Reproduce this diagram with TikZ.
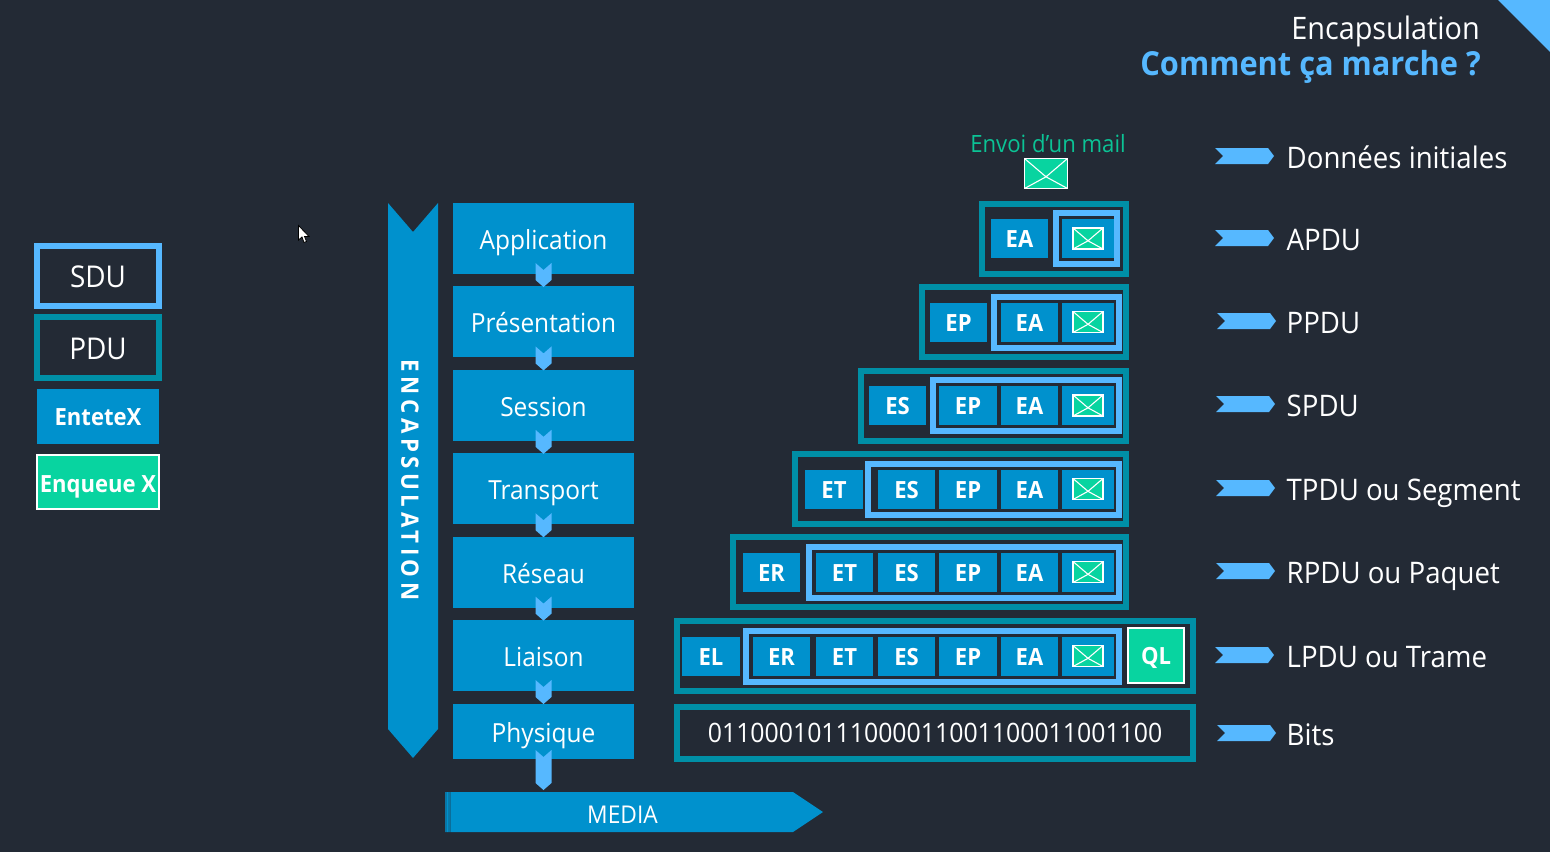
\documentclass[tikz,border=0pt]{standalone}
\usepackage{fontspec}
\setmainfont[FakeStretch=0.93]{Open Sans}
\usetikzlibrary{arrows,positioning}
\definecolor{bgdark}{HTML}{232A35}
\definecolor{blueone}{HTML}{0091CD}
\definecolor{skyblue}{HTML}{56B8FF}
\definecolor{tealone}{HTML}{008FA6}
\definecolor{greenone}{HTML}{08D4A0}
\newcommand{\fs}[1]{\fontsize{#1}{#1}\selectfont}
% name, x, y, width, height
\newcommand{\mailicon}[5]{
	\node[mail node,minimum width=#4pt,minimum height=#5pt] (#1) at (#2,#3) {};
	\draw[white,line width=1.1pt] (#1.north west) -- ([yshift=-0.11*#5 pt]#1.center) -- (#1.north east)
		(#1.south west) -- ([yshift=-0.11*#5 pt]#1.center) -- (#1.south east);
}
\begin{document}
\begin{tikzpicture}[x=1pt,y=-1pt,node distance=83.4pt,
	layer node/.style={fill=blueone,text=white,minimum width=181pt,minimum height=71pt,inner sep=0pt,outer sep=0pt,text height=26pt,text depth=4pt,font=\fs{26.3}},
	head node/.style={fill=blueone,text=white,minimum height=39pt,inner sep=0pt,outer sep=0pt,text height=18pt,text depth=0pt,font=\fs{23.7}\bfseries},
	pdu node/.style={draw=tealone,line width=6pt,inner sep=0pt,outer sep=0pt,text=white,text height=25pt,text depth=2pt,font=\fs{30}},
	sdu node/.style={draw=skyblue,line width=6pt,inner sep=0pt,outer sep=0pt,text=white,text height=24pt,text depth=2pt,font=\fs{30}},
	trailer node/.style={fill=greenone,draw=white,line width=2pt,text=white,inner sep=0pt,outer sep=0pt,text height=18pt,text depth=0pt,font=\fs{23.7}\bfseries},
	mail node/.style={fill=greenone,draw=white,line width=1.1pt,inner sep=0pt,outer sep=0pt},
	row label/.style={text=white,anchor=base west,inner sep=0pt,font=\fs{29.7}},
	chevron/.style={fill=skyblue}]
	\fill[bgdark] (0,0) rectangle (1550,852);
	\useasboundingbox (0,0) rectangle (1550,852);

	% title
	\fill[skyblue] (1498,0) -- (1550,52) -- (1550,0) -- cycle;
	\node[anchor=base east,text=white,inner sep=0pt,font=\fs{31}] (title) at (1480,39.5) {Encapsulation};
	\node[anchor=base east,text=skyblue,inner sep=0pt,font=\fs{33.1}\bfseries] (subtitle) at (1481,75) {Comment ça marche ?};

	% legend
	\node[sdu node,minimum width=122pt,minimum height=60pt] (sdu) at (98,276) {SDU};
	\node[pdu node,minimum width=122pt,minimum height=61pt] (pdu) at (98,347.5) {PDU};
	\node[head node,minimum width=122pt,minimum height=55pt,text height=17pt] (entete) at (98,416.5) {EnteteX};
	\node[trailer node,minimum width=122pt,minimum height=54pt,text height=20pt] (enqueue) at (98,482) {Enqueue X};

	% mouse pointer
	\draw[fill=white,draw=black,line width=0.8pt] (298.5,225.5) -- (298.5,240) -- (302,237) -- (304,242.5) -- (306.5,241.5) -- (304.5,236.5) -- (309,236.5) -- cycle;

	% encapsulation ribbon
	\fill[blueone] (388,203) -- (413,232) -- (438,203) -- (438,729) -- (413,758) -- (388,729) -- cycle;
	\node[rotate=-90,text=white,inner sep=0pt,font=\fs{24}\bfseries\addfontfeature{LetterSpace=19}] (ribbon) at (410,480) {ENCAPSULATION};

	% layers
	\node[layer node] (app) at (543.5,238.5) {Application};
	\node[layer node] (pres) [below of=app] {Présentation};
	\node[layer node] (sess) [below of=pres] {Session};
	\node[layer node] (trans) [below of=sess] {Transport};
	\node[layer node] (res) [below of=trans] {Réseau};
	\node[layer node] (liai) [below of=res] {Liaison};
	\node[layer node,minimum height=55pt] (phys) at (543.5,731.5) {Physique};
	\foreach \a in {app,pres,sess,trans,res,liai}
		\fill[chevron] ([shift={(-8,-11)}]\a.south) -- ([shift={(0,-4)}]\a.south) -- ([shift={(8,-11)}]\a.south)
			-- ([shift={(8,6)}]\a.south) -- ([shift={(0,13)}]\a.south) -- ([shift={(-8,6)}]\a.south) -- cycle;
	\fill[chevron] ([shift={(-8,-9)}]phys.south) -- ([shift={(0,-2)}]phys.south) -- ([shift={(8,-9)}]phys.south)
		-- ([shift={(8,24)}]phys.south) -- ([shift={(0,31)}]phys.south) -- ([shift={(-8,24)}]phys.south) -- cycle;

	% media
	\fill[blueone] (452,792) -- (793,792) -- (823,812) -- (793,832) -- (452,832) -- cycle;
	\fill[blueone!75!bgdark] (445,792) rectangle (447,832) (448,792) rectangle (450.5,832);
	\fill[blueone] (447,792) rectangle (448,832) (450.5,792) rectangle (452,832);
	\node[anchor=base,text=white,inner sep=0pt,font=\fs{24.5}] (media) at (622.5,823) {MEDIA};

	% data units, row/outer left/outer right/sdu left/sdu right/header/header x
	\foreach \rw/\oleft/\oright/\sleft/\sright/\hd/\hx in {1/979/1129/1053/1120/EA/1019.5,2/919/1129/991/1122/EP/958.5,3/858/1129/930/1122/ES/897.5,4/792/1129/865/1122/ET/834,5/730/1129/806/1122/ER/771.5,6/674/1196/743/1122/EL/711} {
		\pgfmathsetmacro\cy{{238.5,322,405.5,489,572,656}[\rw-1]}
		\node[pdu node,minimum width={(\oright-\oleft-6)*1pt},minimum height=70pt] (pdu\rw) at ({(\oright+\oleft)/2},\cy) {};
		\node[sdu node,minimum width={(\sright-\sleft-6)*1pt},minimum height=51pt] (sdu\rw) at ({(\sright+\sleft)/2},\cy) {};
		\node[head node,minimum width=57.5pt] (head\rw) at (\hx,\cy) {\hd};
		\node[head node,minimum width=52pt] (data\rw) at (1088,\cy) {};
		\mailicon{mail\rw}{1088}{\cy}{30}{21}
	}
	\foreach \hd/\x/\first in {EA/1029.5/2,EP/968/3,ES/906.5/4,ET/844.5/5,ER/781.5/6}
		\foreach \rw in {\first,...,6} {
			\pgfmathsetmacro\cy{{238.5,322,405.5,489,572,656}[\rw-1]}
			\node[head node,minimum width=57.5pt] (\hd\rw) at (\x,\cy) {\hd};
		}
	\node[trailer node,minimum width=56pt,minimum height=55pt] (ql) at (1156,655.5) {QL};
	\node[pdu node,minimum width=516pt,minimum height=52pt,text height=20pt,font=\fs{26.7}] (bits) at (935,733) {01100010111000011001100011001100};

	% initial data
	\node[anchor=base,text=greenone!90!bgdark,inner sep=0pt,font=\fs{23.8}] (envoi) at (1048,152) {Envoi d’un mail};
	\mailicon{mail0}{1046}{173.5}{43}{30}

	% row labels
	\foreach \n/\y/\x/\txt in {0/156/1215/Données initiales,1/238/1215/APDU,2/321/1217/PPDU,3/404/1216/SPDU,4/488/1216/TPDU ou Segment,5/571/1216/RPDU ou Paquet,6/655/1215/LPDU ou Trame,7/733/1217/Bits} {
		\node[row label] (label\n) at (1286.5,\y+12.7) {\txt};
		\fill[chevron] (\x,\y-8) -- (\x+53,\y-8) -- (\x+59,\y) -- (\x+53,\y+8) -- (\x,\y+8) -- (\x+8,\y) -- cycle;
	}
\end{tikzpicture}
\end{document}
